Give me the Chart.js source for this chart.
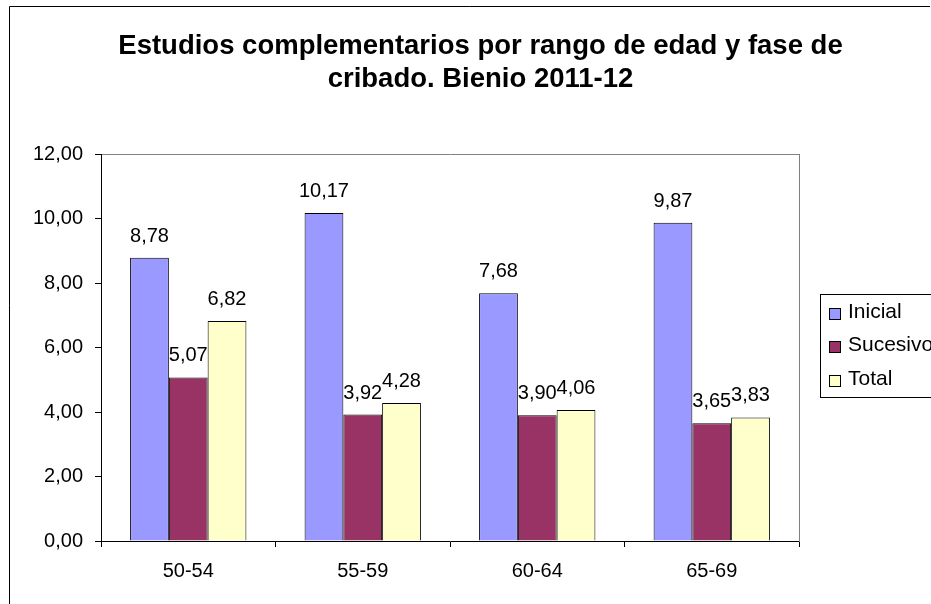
<!DOCTYPE html>
<html>
<head>
<meta charset="utf-8">
<script src="https://cdn.jsdelivr.net/npm/chart.js@4"></script>
<style>
  html, body { margin: 0; padding: 0; background: #fff; }
  #wrap { width: 931px; height: 604px; position: relative; }
</style>
</head>
<body>
<div id="wrap"><canvas id="c" width="931" height="604"></canvas></div>
<script>
const titleLines = ['Estudios complementarios por rango de edad y fase de', 'cribado. Bienio 2011-12'];
const categories = ['50-54', '55-59', '60-64', '65-69'];
const seriesNames = ['Inicial', 'Sucesivo', 'Total'];
const inicial = [8.78, 10.17, 7.68, 9.87];
const sucesivo = [5.07, 3.92, 3.90, 3.65];
const total = [6.82, 4.28, 4.06, 3.83];
const seriesColors = ['#9999FF', '#993366', '#FFFFCC'];
const yMin = 0, yMax = 12, yStep = 2;

const FONT = 'Liberation Sans, Arial, sans-serif';
Chart.defaults.font.family = FONT;
Chart.defaults.color = '#000';

const fmt = v => Number(v).toFixed(2).replace('.', ',');

const bgPlugin = {
  id: 'bg',
  beforeDraw(chart) {
    const ctx = chart.ctx;
    ctx.save();
    ctx.fillStyle = '#fff';
    ctx.fillRect(0, 0, chart.width, chart.height);
    ctx.strokeStyle = '#000';
    ctx.lineWidth = 1;
    ctx.beginPath();
    ctx.moveTo(9.5, chart.height + 2);
    ctx.lineTo(9.5, 6.5);
    ctx.lineTo(930, 6.5);
    ctx.stroke();
    ctx.restore();
  }
};

const labelPlugin = {
  id: 'valueLabels',
  afterDatasetsDraw(chart) {
    const ctx = chart.ctx;
    ctx.save();
    ctx.font = '20px ' + FONT;
    ctx.fillStyle = '#000';
    ctx.textAlign = 'center';
    ctx.textBaseline = 'alphabetic';
    chart.data.datasets.forEach((ds, i) => {
      chart.getDatasetMeta(i).data.forEach((bar, j) => {
        ctx.fillText(fmt(ds.data[j]), bar.x, bar.y - 16);
      });
    });
    ctx.restore();
  }
};

const legendPlugin = {
  id: 'boxLegend',
  afterDraw(chart) {
    const ctx = chart.ctx;
    ctx.save();
    ctx.strokeStyle = '#000';
    ctx.lineWidth = 1;
    ctx.strokeRect(820.5, 294.5, 140, 103);
    ctx.font = '21px ' + FONT;
    ctx.textAlign = 'left';
    ctx.textBaseline = 'middle';
    chart.data.datasets.forEach((ds, i) => {
      const cy = 313 + i * 33.5;
      ctx.fillStyle = ds.backgroundColor;
      ctx.fillRect(829.5, Math.round(cy - 5.5) + 0.5, 11, 11);
      ctx.strokeStyle = '#000';
      ctx.strokeRect(829.5, Math.round(cy - 5.5) + 0.5, 11, 11);
      ctx.fillStyle = '#000';
      ctx.fillText(ds.label, 848, cy - 1);
    });
    ctx.restore();
  }
};

const seriesData = [inicial, sucesivo, total];

new Chart(document.getElementById('c'), {
  type: 'bar',
  data: {
    labels: categories,
    datasets: seriesNames.map((name, i) => ({
      label: name,
      data: seriesData[i],
      backgroundColor: seriesColors[i],
      borderColor: '#000',
      borderWidth: 1,
      categoryPercentage: 2 / 3,
      barPercentage: 1
    }))
  },
  options: {
    responsive: false,
    animation: false,
    devicePixelRatio: 1,
    layout: { padding: { left: 30, right: 0, top: 0, bottom: 0 } },
    plugins: {
      legend: { display: false },
      tooltip: { enabled: false },
      title: {
        display: true,
        text: titleLines,
        color: '#000',
        font: { size: 27.5, weight: 'bold', lineHeight: 33 / 27.5 },
        padding: { top: 30, bottom: 58 }
      }
    },
    scales: {
      x: {
        offset: true,
        grid: { offset: true, drawOnChartArea: false, drawTicks: true, tickLength: 6, tickColor: '#000' },
        border: { color: '#000' },
        ticks: { color: '#000', font: { size: 20 }, padding: 12, maxRotation: 0 },
        afterFit: s => { s.height = 63; }
      },
      y: {
        min: yMin, max: yMax,
        ticks: { stepSize: yStep, color: '#000', font: { size: 20 }, padding: 12, callback: v => fmt(v) },
        grid: {
          color: c => (c.tick && c.tick.value === yMax) ? '#808080' : 'rgba(0,0,0,0)',
          tickColor: '#000', tickLength: 6
        },
        border: { color: '#000' },
        afterFit: s => { s.width = 71; }
      },
      y2: {
        position: 'right',
        min: yMin, max: yMax,
        grid: { drawOnChartArea: false, drawTicks: false },
        ticks: { display: false },
        border: { color: '#808080' },
        afterFit: s => { s.width = 132; }
      }
    }
  },
  plugins: [bgPlugin, labelPlugin, legendPlugin]
});
</script>
</body>
</html>
